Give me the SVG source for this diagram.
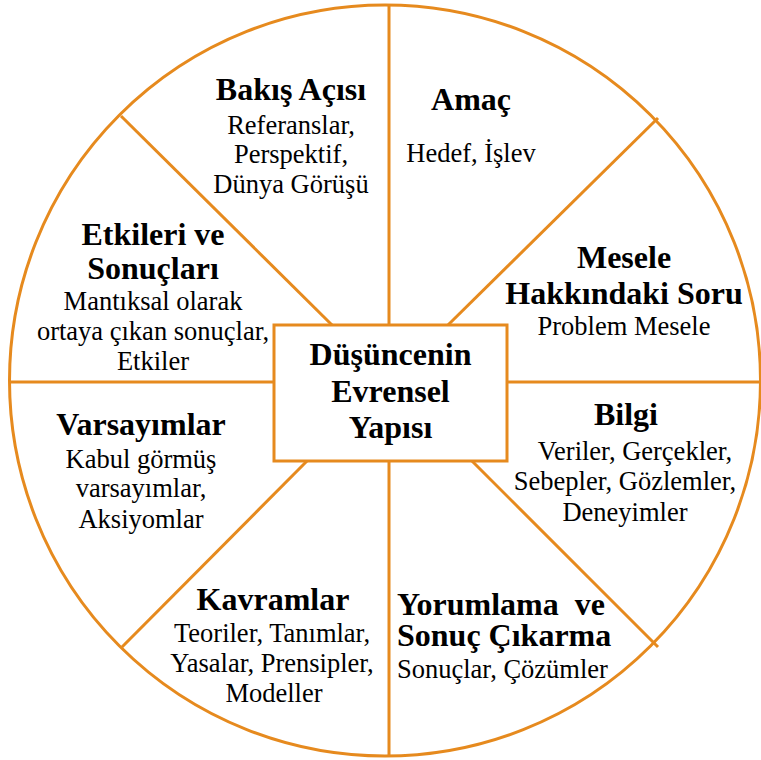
<svg xmlns="http://www.w3.org/2000/svg" width="761" height="760" viewBox="0 0 761 760">
<style>
.ln{stroke:#E68A1E;stroke-width:3;fill:none}
.t{font-family:"Liberation Serif","Times New Roman",serif;font-weight:bold;font-size:32px;fill:#000;text-anchor:middle}
.b{font-family:"Liberation Serif","Times New Roman",serif;font-size:26.5px;fill:#000;text-anchor:middle}
</style>
<rect width="761" height="760" fill="#fff"/>
<g id="connectors">
<circle class="ln" cx="385" cy="380.5" r="375.5"/>
<line class="ln" x1="389" y1="5" x2="389" y2="325"/>
<line class="ln" x1="389" y1="461" x2="389" y2="756"/>
<line class="ln" x1="9" y1="382" x2="274" y2="382"/>
<line class="ln" x1="507" y1="382" x2="761" y2="382"/>
<line class="ln" x1="121" y1="116" x2="332" y2="325"/>
<line class="ln" x1="658" y1="118" x2="448" y2="325"/>
<line class="ln" x1="122" y1="647" x2="307" y2="461"/>
<line class="ln" x1="658" y1="647" x2="472" y2="461"/>
</g>
<g id="center">
<rect class="ln" x="274" y="325" width="233" height="136" fill="#fff"/>
<text class="t" x="390.5" y="365">Düşüncenin</text>
<text class="t" x="390.5" y="402">Evrensel</text>
<text class="t" x="390.5" y="438">Yapısı</text>
</g>
<g id="bakis">
<text class="t" x="291" y="100">Bakış Açısı</text>
<text class="b" x="291" y="134">Referanslar,</text>
<text class="b" x="291" y="163">Perspektif,</text>
<text class="b" x="291" y="193">Dünya Görüşü</text>
</g>
<g id="amac">
<text class="t" x="471" y="110">Amaç</text>
<text class="b" x="471" y="162">Hedef, İşlev</text>
</g>
<g id="mesele">
<text class="t" x="624" y="268">Mesele</text>
<text class="t" x="624" y="304">Hakkındaki Soru</text>
<text class="b" x="624" y="335">Problem Mesele</text>
</g>
<g id="bilgi">
<text class="t" x="626" y="425">Bilgi</text>
<text class="b" x="635" y="460">Veriler, Gerçekler,</text>
<text class="b" x="625" y="490">Sebepler, Gözlemler,</text>
<text class="b" x="625" y="521">Deneyimler</text>
</g>
<g id="yorumlama">
<text class="t" x="397" y="615" style="text-anchor:start;white-space:pre">Yorumlama  ve</text>
<text class="t" x="397" y="646" style="text-anchor:start">Sonuç Çıkarma</text>
<text class="b" x="397" y="678" style="text-anchor:start">Sonuçlar, Çözümler</text>
</g>
<g id="kavramlar">
<text class="t" x="273" y="610">Kavramlar</text>
<text class="b" x="272" y="642">Teoriler, Tanımlar,</text>
<text class="b" x="272" y="672">Yasalar, Prensipler,</text>
<text class="b" x="274" y="702">Modeller</text>
</g>
<g id="varsayimlar">
<text class="t" x="141" y="435">Varsayımlar</text>
<text class="b" x="141" y="468">Kabul görmüş</text>
<text class="b" x="141" y="497">varsayımlar,</text>
<text class="b" x="141" y="528">Aksiyomlar</text>
</g>
<g id="etkileri">
<text class="t" x="153" y="245">Etkileri ve</text>
<text class="t" x="153" y="279">Sonuçları</text>
<text class="b" x="153" y="310">Mantıksal olarak</text>
<text class="b" x="153" y="340">ortaya çıkan sonuçlar,</text>
<text class="b" x="153" y="370">Etkiler</text>
</g>
</svg>
